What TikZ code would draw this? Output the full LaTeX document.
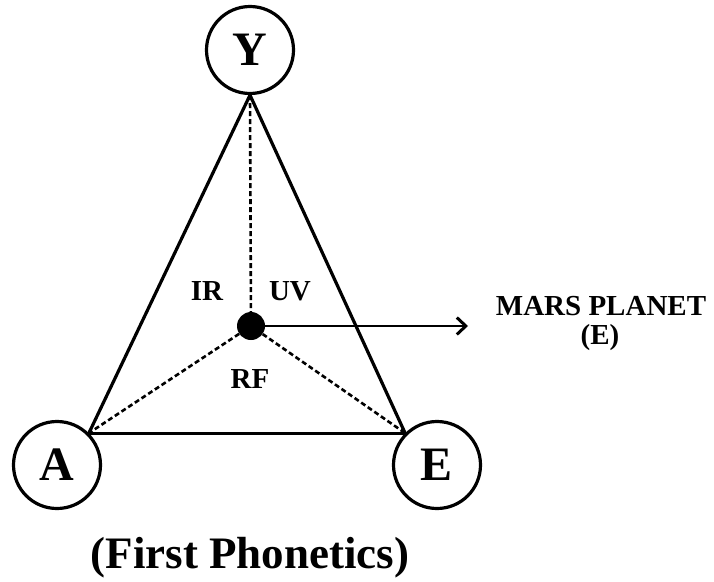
\documentclass[tikz,border=0pt]{standalone}
\usepackage{fontspec}
\setmainfont{Liberation Serif}
\usetikzlibrary{arrows.meta}
\begin{document}
\begin{tikzpicture}[x=1pt,y=-1pt,
  vertex/.style={circle,draw,line width=3.2pt,minimum size=87pt,inner sep=0pt,
    font=\fontsize{48}{48}\selectfont\bfseries},
  solidedge/.style={line width=3.2pt},
  dashedge/.style={line width=2.6pt,dash pattern=on 5pt off 3pt},
  lbl/.style={anchor=base,inner sep=0pt,font=\fontsize{29}{29}\selectfont\bfseries},
  hub/.style={circle,fill=black,minimum size=28pt,inner sep=0pt}]
\useasboundingbox (0,0) rectangle (714,581);
\node[vertex] (Y) at (250,50) {Y};
\node[vertex] (A) at (57,465) {A};
\node[vertex] (E) at (437,465) {E};
\node[hub] (D) at (251,326) {};
\draw[solidedge] (Y.south) -- (A.north east);
\draw[solidedge] (Y.south) -- (E.north west);
\draw[solidedge] (A.north east) -- (E.north west);
\draw[dashedge] (Y.south) -- (D);
\draw[dashedge] (D) -- (A.north east);
\draw[dashedge] (D) -- (E.north west);
\coordinate (T) at (468,326);
\draw[line width=2.8pt,-{Straight Barb[length=9pt,width=17pt,line width=3pt]}] (D.center) -- (T);
\node[lbl] (IR) at (207,300) {IR};
\node[lbl] (UV) at (290,300) {UV};
\node[lbl] (RF) at (250,388) {RF};
\node[lbl] (M1) at (601,315) {MARS PLANET};
\node[lbl] (M2) at (600,344) {(E)};
\node[anchor=base,inner sep=0pt,font=\fontsize{45}{45}\selectfont\bfseries] (title) at (250,568) {(First Phonetics)};
\end{tikzpicture}
\end{document}
